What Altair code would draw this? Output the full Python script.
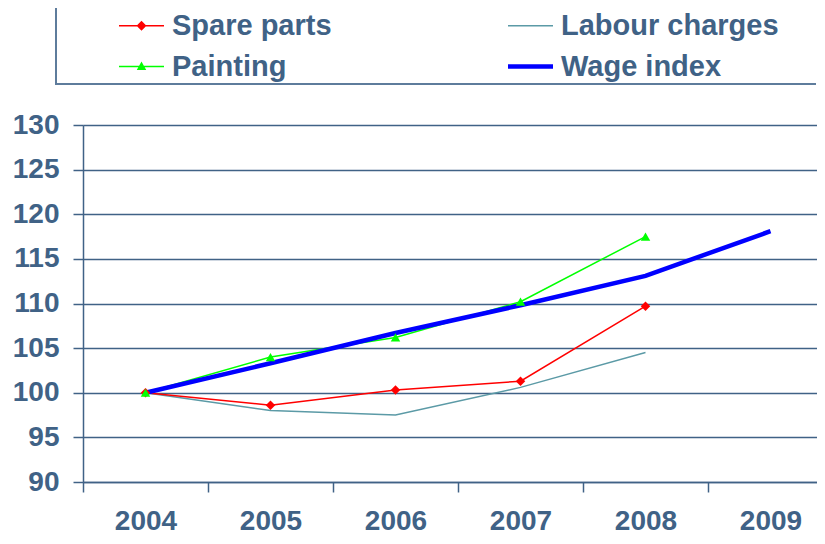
import altair as alt
import pandas as pd

years = [2004, 2005, 2006, 2007, 2008, 2009]
series_names = ["Spare parts", "Painting", "Labour charges", "Wage index"]
spare_parts = [100, 98.6, 100.3, 101.3, 109.7]
painting = [100, 104.0, 106.2, 110.2, 117.5]
labour_charges = [100, 98.0, 97.5, 100.6, 104.5]
wage_index = [100, 103.3, 106.7, 109.8, 113.1, 118.1]
y_ticks = [90, 95, 100, 105, 110, 115, 120, 125, 130]
x_tick_edges = [2003.5, 2004.5, 2005.5, 2006.5, 2007.5, 2008.5]

colors = ["#FF0000", "#00FF00", "#5B9AA6", "#0000FF"]
TXT = "#406286"
FONT = "Liberation Sans"

W = 734          # plot width that keeps the page inside the window
STEP = 125       # pixels per year
TOP = 117

rows = []
for name, vals in zip(series_names, [spare_parts, painting, labour_charges, wage_index]):
    for yr, v in zip(years, vals):
        rows.append({"year": yr, "series": name, "value": v})
df = pd.DataFrame(rows)

x_enc = alt.X(
    "year:Q",
    scale=alt.Scale(domain=[2003.5, 2003.5 + W / STEP], nice=False, zero=False),
    axis=alt.Axis(
        title=None, values=x_tick_edges, labelExpr="toString(datum.value + 0.5)",
        labelOffset=STEP / 2, tickSize=10, tickColor=TXT, tickWidth=1.5,
        domainColor=TXT, domainWidth=1.5, labelFont=FONT, labelFontSize=28,
        labelFontWeight="bold", labelColor=TXT, labelPadding=15, labelAngle=0,
        grid=False, labelFlush=False, labelOverlap=False,
    ),
)
y_enc = alt.Y(
    "value:Q",
    scale=alt.Scale(domain=[90, 130], nice=False, zero=False),
    axis=alt.Axis(
        title=None, values=y_ticks, tickSize=10, tickColor=TXT, tickWidth=1.5,
        domainColor=TXT, domainWidth=1.5, grid=True, gridColor=TXT, gridWidth=1.5,
        labelFont=FONT, labelFontSize=28, labelFontWeight="bold", labelColor=TXT,
        labelPadding=14,
    ),
)

line_p = "M-1,-0.034H1V0.034H-1Z"
diamond_p = "M-1,-0.034H1V0.034H-1ZM0,-0.22L0.22,0L0,0.22L-0.22,0Z"
tri_p = "M-1,-0.034H1V0.034H-1ZM0,-0.22L0.21,0.16L-0.21,0.16Z"
thick_p = "M-1,-0.095H1V0.095H-1Z"

shape_expr = (
    f"datum.value === 'Spare parts' ? '{diamond_p}' : "
    f"datum.value === 'Painting' ? '{tri_p}' : "
    f"datum.value === 'Wage index' ? '{thick_p}' : '{line_p}'"
)
fill_expr = (
    f"datum.value === 'Spare parts' ? '{colors[0]}' : "
    f"datum.value === 'Painting' ? '{colors[1]}' : "
    f"datum.value === 'Labour charges' ? '{colors[2]}' : '{colors[3]}'"
)

legend = alt.Legend(
    title=None, orient="none", legendX=36, legendY=-122, columns=2,
    columnPadding=176, rowPadding=3, padding=0, symbolSize=2025,
    labelOffset=8, labelFont=FONT, labelFontSize=29, labelFontWeight="bold",
    labelColor=TXT, labelLimit=500, symbolStrokeWidth=0,
    symbolType=alt.ExprRef(shape_expr),
    symbolFillColor=alt.ExprRef(fill_expr),
)

color_enc = alt.Color(
    "series:N", scale=alt.Scale(domain=series_names, range=colors), legend=legend
)

base = alt.Chart(df)

def line_layer(name, width):
    return base.transform_filter(alt.datum.series == name).mark_line(strokeWidth=width).encode(
        x=x_enc, y=y_enc, color=color_enc
    )

layers = [
    line_layer("Labour charges", 1.5),
    line_layer("Spare parts", 1.5),
    line_layer("Painting", 1.5),
    line_layer("Wage index", 4.5),
    base.transform_filter(alt.datum.series == "Spare parts").mark_point(
        shape="diamond", filled=True, size=90, opacity=1, color=colors[0]
    ).encode(x=x_enc, y=y_enc),
    base.transform_filter(alt.datum.series == "Painting").mark_point(
        shape="triangle-up", filled=True, size=90, opacity=1, color=colors[1]
    ).encode(x=x_enc, y=y_enc),
]

# legend frame drawn as filled bands (top, bottom, left); it runs on to the window edge
FRAME = "#5E7C9C"
one = pd.DataFrame({"a": [0]})

def band(x1, x2, y1, y2):
    return alt.Chart(one).mark_rect(fill=FRAME, opacity=1).encode(
        x=alt.value(x1), x2=alt.value(x2), y=alt.value(y1), y2=alt.value(y2)
    )

frame = [
    band(-28, W - 1, -120, -118),
    band(-28, W - 1, -42, -40),
    band(-28, -26, -120, -40),
]

chart = alt.layer(*layers, *frame).properties(
    width=W, height=357,
    autosize=alt.AutoSizeParams(type="none"),
    padding={"left": 75, "top": TOP, "right": 0, "bottom": 528 - TOP - 357},
).configure_view(stroke=None).configure(background="white")

chart.save("out.html", embed_options={"renderer": "svg", "actions": False})
